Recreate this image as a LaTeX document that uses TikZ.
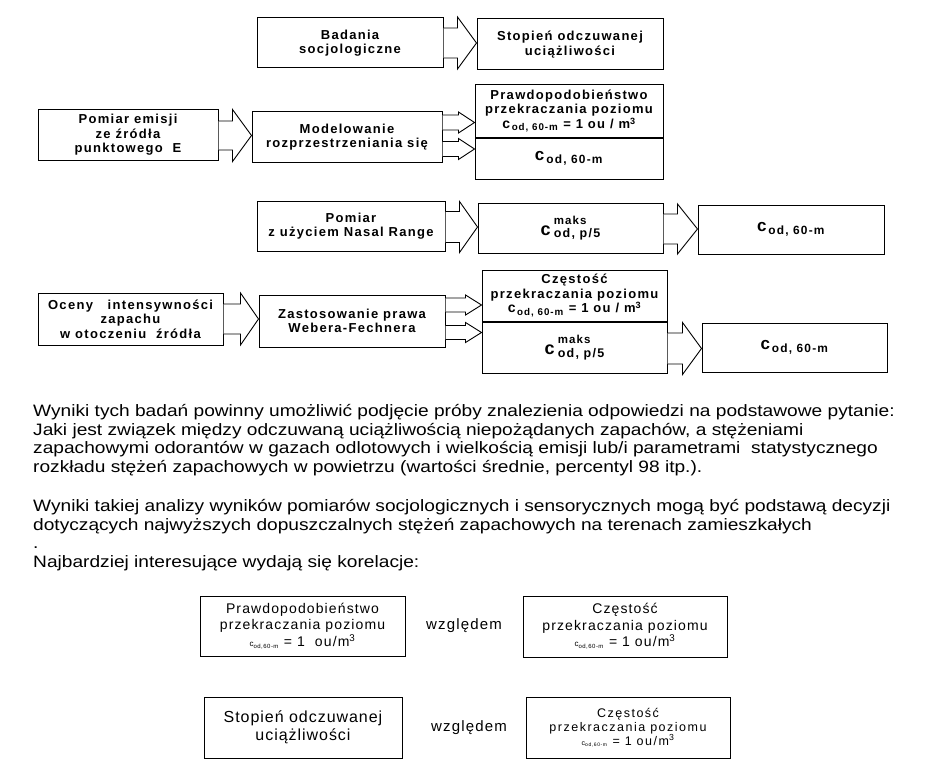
\documentclass[tikz,border=0pt]{standalone}
\usepackage{fontspec}
\setmainfont{Liberation Sans}
\usepackage{amsmath}
\usetikzlibrary{calc,positioning}

% block arrow: from, to, shift, shaft half, head half, head length
\newcommand{\fatarrow}[6]{%
  \draw[fatarr] let \p1=(#1.east), \p2=(#2.west) in
    (\x1,{\y1+(#3)+(#4)}) -- ({\x2-(#6)},{\y1+(#3)+(#4)}) -- ({\x2-(#6)},{\y1+(#3)+(#5)})
    -- (\x2,{\y1+(#3)}) -- ({\x2-(#6)},{\y1+(#3)-(#5)}) -- ({\x2-(#6)},{\y1+(#3)-(#4)})
    -- (\x1,{\y1+(#3)-(#4)});}
\newcommand{\csub}[2]{{\fontsize{#1}{#1}\selectfont$\text{c}_{\,\text{#2}}$}}
\newcommand{\cmaks}[1]{{\fontsize{#1}{#1}\selectfont c}\hspace{3pt}%
  \rlap{\raisebox{11pt}{\fontsize{11.5}{11.5}\selectfont maks}}%
  \raisebox{-2.5pt}{\fontsize{12.5}{12.5}\selectfont od, p/5}}

\begin{document}
\begin{tikzpicture}[x=1pt,y=-1pt,
  box/.style={draw, line width=1pt, fill=white, align=center, inner sep=2pt,
    font=\bfseries\fontsize{13}{14.5}\selectfont\addfontfeature{LetterSpace=10}},
  corbox/.style={draw, line width=0.9pt, align=center, inner sep=2pt,
    font=\fontsize{14}{16.5}\selectfont\addfontfeature{LetterSpace=8}},
  relword/.style={font=\fontsize{15}{18}\selectfont\addfontfeature{LetterSpace=8}},
  fatarr/.style={draw, line width=0.9pt, fill=white, line join=miter},
  para/.style={anchor=north west, align=left, inner sep=0pt,
    font=\fontsize{16.5}{18.7}\selectfont\addfontfeature{FakeStretch=1.16}}]
\useasboundingbox (0,0) rectangle (933,765);
% row 1
\node[box, minimum width=186, minimum height=50] (bad) at (350,43) {Badania\\socjologiczne};
\node[box, minimum width=186, minimum height=51] (stop) at (570,44.5) {Stopień odczuwanej\\uciążliwości};
% row 2
\node[box, minimum width=180, minimum height=50] (pem) at (128,135) {Pomiar emisji\\ze źródła\\punktowego~~E};
\node[box, minimum width=190, minimum height=50] (mod) at (347,137) {Modelowanie\\rozprzestrzeniania się};
\node[box, minimum width=188, minimum height=52] (prtop) at (569,111)
  {Prawdopodobieństwo\\przekraczania poziomu\\\csub{14}{od, 60-m} {\fontsize{13}{13}\selectfont= 1 ou / m\textsuperscript{3}}};
\node[box, minimum width=188, minimum height=41, below=0pt of prtop] (prbot) {\csub{17}{od, 60-m}};
% row 3
\node[box, minimum width=188, minimum height=50] (nas) at (351,226) {Pomiar\\z użyciem Nasal Range};
\node[box, minimum width=185, minimum height=50] (maks1) at (570.5,228) {\cmaks{18}};
\node[box, minimum width=186, minimum height=49] (cod1) at (791,229.5) {\csub{17}{od, 60-m}};
% row 4
\node[box, minimum width=185, minimum height=52] (oce) at (130.5,319) {Oceny~~~intensywności\\zapachu\\w otoczeniu~~źródła};
\node[box, minimum width=186, minimum height=52] (zas) at (352,321) {Zastosowanie prawa\\Webera-Fechnera};
\node[box, minimum width=185, minimum height=51] (cztop) at (574.5,295.5)
  {Częstość\\przekraczania poziomu\\\csub{14}{od, 60-m} {\fontsize{13}{13}\selectfont= 1 ou / m\textsuperscript{3}}};
\node[box, minimum width=185, minimum height=51, below=0pt of cztop] (czbot) {\cmaks{18}};
\node[box, minimum width=185, minimum height=49] (cod2) at (794.5,347.5) {\csub{17}{od, 60-m}};
% arrows
\fatarrow{bad}{stop}{0pt}{15pt}{26pt}{19pt}
\fatarrow{pem}{mod}{-0.5pt}{14.5pt}{26pt}{19pt}
\fatarrow{mod}{prtop}{14.5pt}{7.5pt}{10.5pt}{16pt}
\fatarrow{mod}{prbot}{-12pt}{7.5pt}{10.5pt}{16pt}
\fatarrow{nas}{maks1}{-1pt}{15.5pt}{25.5pt}{18pt}
\fatarrow{maks1}{cod1}{-1pt}{15pt}{25pt}{20pt}
\fatarrow{oce}{zas}{0pt}{15pt}{26pt}{18pt}
\fatarrow{zas}{cztop}{16pt}{7pt}{10pt}{16pt}
\fatarrow{zas}{czbot}{-11.5pt}{7pt}{10pt}{16pt}
\fatarrow{czbot}{cod2}{-1pt}{15.5pt}{26pt}{19pt}
% text
\node[para] (txt1) at (33,404) {Wyniki tych badań powinny umożliwić podjęcie próby znalezienia odpowiedzi na podstawowe pytanie:\\
Jaki jest związek między odczuwaną uciążliwością niepożądanych zapachów, a stężeniami\\
zapachowymi odorantów w gazach odlotowych i wielkością emisji lub/i parametrami~ statystycznego\\
rozkładu stężeń zapachowych w powietrzu (wartości średnie, percentyl 98 itp.).};
\node[para] (txt2) at (33,499) {Wyniki takiej analizy wyników pomiarów socjologicznych i sensorycznych mogą być podstawą decyzji\\
dotyczących najwyższych dopuszczalnych stężeń zapachowych na terenach zamieszkałych\\
.\\
Najbardziej interesujące wydają się korelacje:};
% correlations
\node[corbox, minimum width=205, minimum height=60] (kA) at (302.5,626)
  {Prawdopodobieństwo\\przekraczania poziomu\\{\fontsize{8}{8}\selectfont c\textsubscript{od,60-m}} = 1~ ou/m\textsuperscript{3}};
\node[relword] (wz1) at (464,626) {względem};
\node[corbox, minimum width=204, minimum height=61] (kB) at (625,626.5)
  {Częstość\\przekraczania poziomu\\{\fontsize{8}{8}\selectfont c\textsubscript{od,60-m}} = 1 ou/m\textsuperscript{3}};
\node[corbox, minimum width=198, minimum height=61, font=\fontsize{16}{18}\selectfont\addfontfeature{LetterSpace=6}] (kC) at (303,727.5)
  {Stopień odczuwanej\\uciążliwości};
\node[relword] (wz2) at (469,728) {względem};
\node[corbox, minimum width=204, minimum height=61, font=\fontsize{12.5}{14}\selectfont\addfontfeature{LetterSpace=12}] (kD) at (628,727.5)
  {Częstość\\przekraczania poziomu\\{\fontsize{7}{7}\selectfont c\textsubscript{od,60-m}} = 1 ou/m\textsuperscript{3}};
\end{tikzpicture}
\end{document}
